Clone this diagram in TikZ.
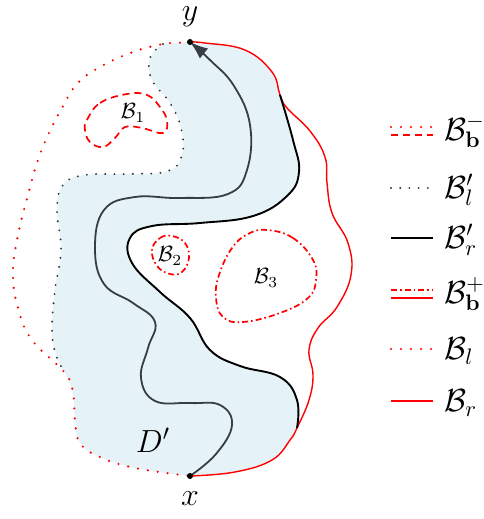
\RequirePackage{fix-cm}
\documentclass[tikz,border=0pt]{standalone}
\usetikzlibrary{arrows.meta}
\definecolor{dfill}{RGB}{229,242,247}
\definecolor{pathgray}{RGB}{55,62,66}
\tikzset{
  reddot/.style={red, line width=1.2pt, dash pattern=on 0pt off 5pt, line cap=round},
  blackdot/.style={black!80, line width=1.05pt, dash pattern=on 0pt off 4.6pt, line cap=round},
  redline/.style={red, line width=0.7pt},
  blackline/.style={black, line width=0.95pt},
  reddash/.style={red, line width=0.85pt, dash pattern=on 3.6pt off 2.4pt},
  reddashdot/.style={red, line width=0.85pt, dash pattern=on 3pt off 1.5pt on 0.8pt off 1.5pt},
  grayline/.style={pathgray, line width=0.9pt},
  lbl/.style={inner sep=0pt, font=\fontsize{16}{19}\selectfont},
  blbl/.style={inner sep=0pt, font=\fontsize{11}{13}\selectfont},
  leg/.style={inner sep=0pt, anchor=west, font=\fontsize{16}{19}\selectfont},
  every plot/.style={tension=0.7},
}
\begin{document}
\begin{tikzpicture}[x=0.5pt, y=-0.5pt]
\useasboundingbox (0,0) rectangle (483,519);
\coordinate (y) at (190,42);
\coordinate (x) at (190,476);
\coordinate (P) at (163,44);
\coordinate (Q) at (65,373);
\coordinate (R) at (297,428);
\coordinate (S) at (280,95);

% fill of D'
\fill[dfill] plot[smooth] coordinates {(y) (176,43) (P)}
  -- plot[smooth] coordinates {(P) (150,58) (152,80) (170,103) (181,128) (182,155) (168,171) (130,174) (85,175) (63,185) (57,210) (61,250) (55,290) (52,330) (56,355) (Q)}
  -- plot[smooth] coordinates {(Q) (73,393) (75,420) (80,443) (100,457) (135,468) (190,476)}
  -- plot[smooth] coordinates {(x) (235,472) (272,460) (290,440) (R)}
  -- plot[smooth] coordinates {(R) (297,400) (280,377) (240,366) (210,350) (190,318) (160,292) (132,263) (130,238) (152,226) (200,223) (253,216) (287,196) (299,172) (293,140) (S)}
  -- plot[smooth] coordinates {(S) (272,72) (245,50) (205,43) (y)} -- cycle;

% B_l red dotted
\draw[reddot] plot[smooth] coordinates {(y) (176,43) (P) (133,52) (100,67) (77,84) (62,108) (48,135) (37,163) (28,195) (18,235) (13,273) (18,308) (32,340) (Q) (73,393) (75,420) (80,443) (100,457) (135,468) (x)};
% B'_l black dotted
\draw[blackdot] plot[smooth] coordinates {(P) (150,58) (152,80) (170,103) (181,128) (182,155) (168,171) (130,174) (85,175) (63,185) (57,210) (61,250) (55,290) (52,330) (56,355) (Q)};
% B_r red solid
\draw[redline] plot[smooth] coordinates {(x) (235,472) (272,460) (290,440) (R) (309,400) (313,375) (309,350) (318,328) (337,307) (351,275) (348,243) (332,213) (327,183) (325,157) (310,131) (287,108) (S) (272,72) (245,50) (205,43) (y)};
% B'_r black solid
\draw[blackline] plot[smooth] coordinates {(S) (293,140) (299,172) (287,196) (253,216) (200,223) (152,226) (130,238) (132,263) (160,292) (190,318) (210,350) (240,366) (280,377) (297,400) (R)};

% obstacles
\draw[reddash] plot[smooth cycle] coordinates {(87,120) (100,103) (127,94) (147,95) (160,107) (167,121) (163,133) (142,128) (125,127) (115,138) (103,147) (90,142) (85,130)};
\draw[reddashdot] plot[smooth cycle] coordinates {(152,250) (160,238) (172,236) (185,243) (189,258) (182,272) (170,274) (157,266)};
\draw[reddashdot] plot[smooth cycle] coordinates {(267,230) (293,238) (313,260) (316,280) (308,298) (280,313) (243,322) (223,317) (216,298) (219,275) (232,248) (248,234)};

% path from x to y
\draw[grayline, -{Latex[length=9pt, width=6.5pt]}] plot[smooth] coordinates {(x) (216,454) (232,425) (220,405) (190,403) (155,401) (141,378) (148,348) (155,322) (133,303) (104,284) (95,248) (104,210) (135,197) (180,198) (228,194) (247,170) (250,125) (234,86) (210,60) (y)};

\fill (x) circle[radius=3];
\fill (y) circle[radius=3];

\node[lbl] (ylab) at (190,17) {$y$};
\node[lbl] (xlab) at (190,499) {$x$};
\node[lbl] (Dlab) at (153,440) {$D'$};
\node[blbl] (b1) at (133,113) {$\mathcal{B}_1$};
\node[blbl] (b2) at (170,256) {$\mathcal{B}_2$};
\node[blbl] (b3) at (266,278) {$\mathcal{B}_3$};

% legend
\draw[reddot] (391,127) -- (433,127);
\draw[reddash] (391,135) -- (433,135);
\node[leg] (l1) at (444,131) {$\mathcal{B}_{\mathbf{b}}^{-}$};
\draw[blackdot] (391,188) -- (433,188);
\node[leg] (l2) at (444,190) {$\mathcal{B}'_l$};
\draw[blackline] (391,238) -- (433,238);
\node[leg] (l3) at (444,240) {$\mathcal{B}'_r$};
\draw[reddashdot] (391,290) -- (433,290);
\draw[redline] (391,298) -- (433,298);
\node[leg] (l4) at (444,294) {$\mathcal{B}_{\mathbf{b}}^{+}$};
\draw[reddot] (391,349) -- (433,349);
\node[leg] (l5) at (444,351) {$\mathcal{B}_l$};
\draw[redline] (391,401) -- (433,401);
\node[leg] (l6) at (444,403) {$\mathcal{B}_r$};
\end{tikzpicture}
\end{document}
